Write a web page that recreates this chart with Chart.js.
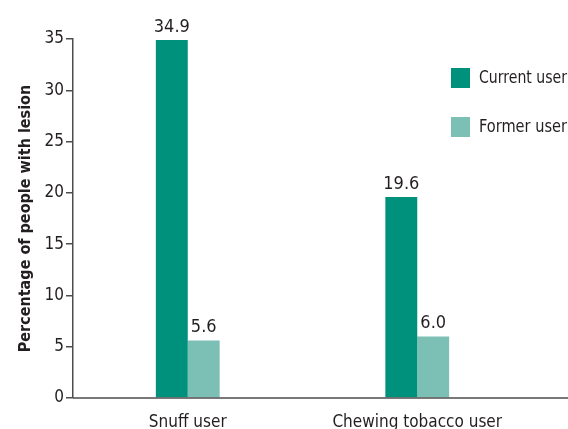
<!DOCTYPE html>
<html>
<head>
<meta charset="utf-8">
<script src="https://cdn.jsdelivr.net/npm/chart.js@4"></script>
<style>
  html, body { margin: 0; padding: 0; background: #fff; }
  #wrap { width: 568px; height: 429px; }
</style>
</head>
<body>
<div id="wrap"><canvas id="lesionChart"></canvas></div>
<script>
    // --- DATA ---
    const categories = ["Snuff user", "Chewing tobacco user"];
    const currentUser = [34.9, 19.6];
    const formerUser = [5.6, 6.0];
    const seriesNames = ["Current user", "Former user"];
    const yTicks = [0, 5, 10, 15, 20, 25, 30, 35];

    const FONT = "'Liberation Sans Narrow', 'DejaVu Sans Condensed', sans-serif";
    const INK = '#231f20';
    const AXIS = '#4d4d4d';

    // value labels above each bar
    const valueLabels = {
        id: 'valueLabels',
        afterDatasetsDraw(chart) {
            const c = chart.ctx;
            c.save();
            c.font = '18px ' + FONT;
            c.fillStyle = INK;
            c.textAlign = 'center';
            c.textBaseline = 'bottom';
            chart.data.datasets.forEach((ds, i) => {
                chart.getDatasetMeta(i).data.forEach((bar, j) => {
                    c.fillText(ds.data[j].toFixed(1), bar.x, bar.y - 4);
                });
            });
            c.restore();
        }
    };

    // x axis line runs on to the right edge, legend sits top right
    const extras = {
        id: 'extras',
        afterDraw(chart) {
            const c = chart.ctx;
            const a = chart.chartArea;
            c.save();
            c.strokeStyle = AXIS;
            c.lineWidth = 1.5;
            c.beginPath();
            c.moveTo(a.left, a.bottom);
            c.lineTo(chart.width, a.bottom);
            c.stroke();

            c.font = '18px ' + FONT;
            c.textBaseline = 'middle';
            c.textAlign = 'left';
            chart.data.datasets.forEach((ds, i) => {
                const y = 68 + i * 49;
                c.fillStyle = ds.backgroundColor;
                c.fillRect(451, y, 19, 20);
                c.fillStyle = INK;
                c.fillText(ds.label, 479, y + 10, 88);
            });
            c.restore();
        }
    };

    const ctx = document.getElementById('lesionChart').getContext('2d');
    const lesionChart = new Chart(ctx, {
        type: 'bar',
        data: {
            labels: categories,
            datasets: [
                { label: seriesNames[0], data: currentUser, backgroundColor: '#00917d' },
                { label: seriesNames[1], data: formerUser, backgroundColor: '#7cbfb5' }
            ]
        },
        options: {
            responsive: true,
            maintainAspectRatio: false,
            animation: false,
            layout: { padding: { top: 39, right: 36, left: 0, bottom: 0 } },
            datasets: { bar: { categoryPercentage: 0.278, barPercentage: 1 } },
            scales: {
                x: {
                    grid: { display: false },
                    border: { display: false },
                    ticks: { color: INK, font: { family: FONT, size: 17 }, padding: 6, maxRotation: 0 },
                    afterFit: (s) => { s.height = 31; }
                },
                y: {
                    min: 0,
                    max: 35,
                    afterBuildTicks: (s) => { s.ticks = yTicks.map(v => ({ value: v })); },
                    grid: { drawOnChartArea: false, drawTicks: true, tickLength: 7, color: AXIS, lineWidth: 1.5 },
                    border: { display: true, color: AXIS, width: 1.5 },
                    ticks: { color: INK, font: { family: FONT, size: 17 }, padding: 2 },
                    title: {
                        display: true,
                        text: 'Percentage of people with lesion',
                        color: INK,
                        font: { family: FONT, size: 16, weight: 'bold' },
                        padding: { top: 16, bottom: 0 }
                    },
                    afterFit: (s) => { s.width = 73; }
                }
            },
            plugins: {
                legend: { display: false },
                tooltip: { enabled: false }
            }
        },
        plugins: [valueLabels, extras]
    });
</script>
</body>
</html>
